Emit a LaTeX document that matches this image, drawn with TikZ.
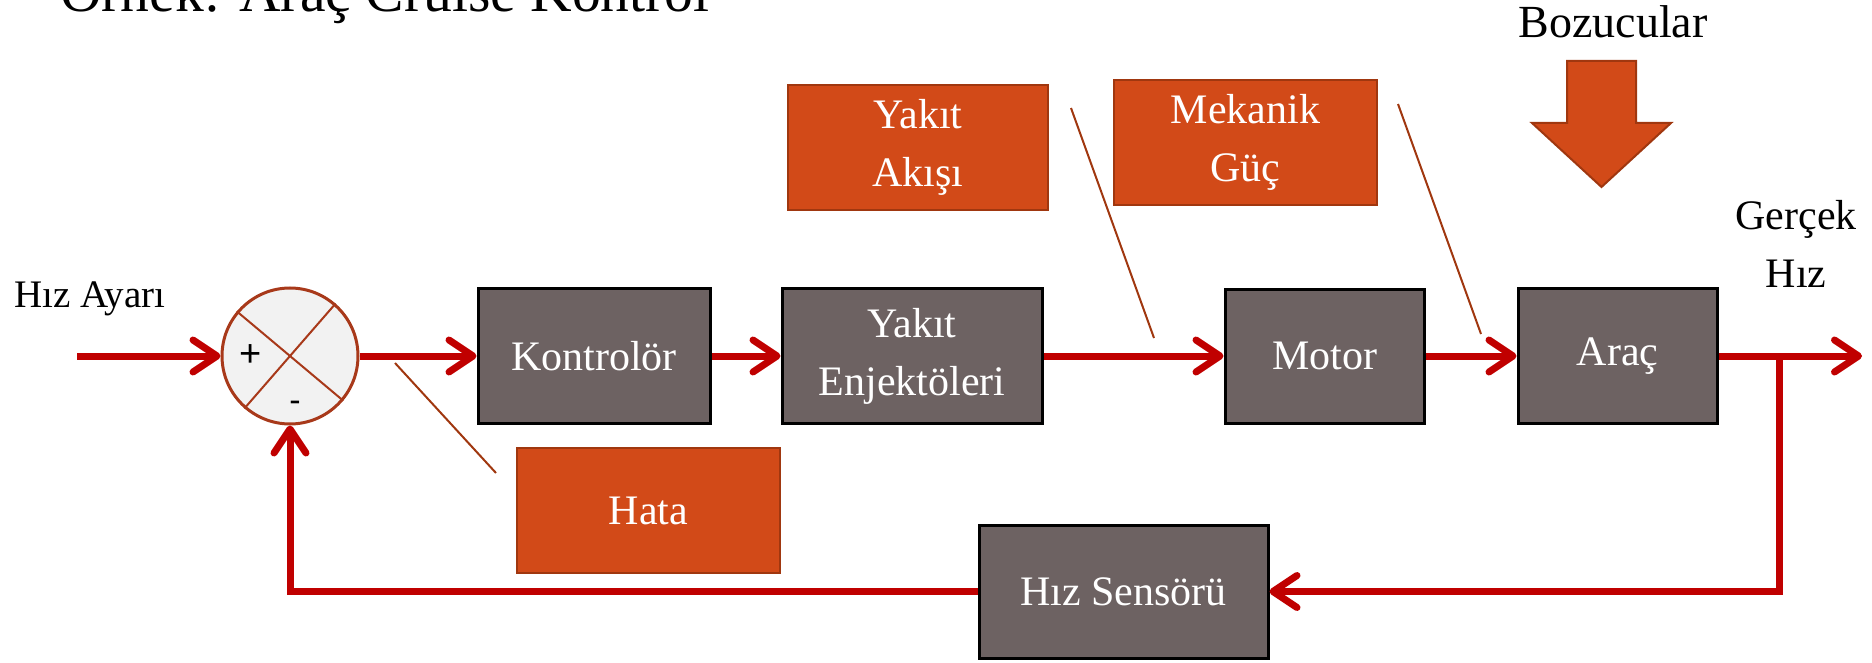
\documentclass[tikz,border=0pt]{standalone}
\usepackage{fontspec}
\setmainfont{Liberation Serif}
\newfontfamily\signfont{Liberation Sans}
\usetikzlibrary{arrows.meta}
\definecolor{sigred}{HTML}{C00000}
\definecolor{blockgray}{HTML}{6D6262}
\definecolor{calloutfill}{HTML}{D24A18}
\definecolor{calloutedge}{HTML}{A0370F}
\definecolor{sumedge}{HTML}{A8391A}
\definecolor{sumfill}{HTML}{F2F2F2}
\begin{document}
\begin{tikzpicture}[x=1pt,y=-1pt,
  block/.style={draw=black, line width=3pt, fill=blockgray, text=white,
    font=\fontsize{42}{58}\selectfont, align=center, inner sep=0pt},
  callout/.style={draw=calloutedge, line width=2.5pt, fill=calloutfill, text=white,
    font=\fontsize{42}{58}\selectfont, align=center, inner sep=0pt},
  sig/.style={draw=sigred, line width=7pt, -{Straight Barb[length=24pt,width=32pt,round]}},
  sigline/.style={draw=sigred, line width=7pt},
  pointer/.style={draw=calloutedge, line width=2pt},
  lbl/.style={font=\fontsize{42}{58}\selectfont, align=center, inner sep=0pt}
]
\useasboundingbox (0,0) rectangle (1872,663);

% title
\node[anchor=base west, inner sep=0pt, font=\fontsize{57.6}{60}\selectfont] (title) at (60,12) {Örnek: Araç Cruise Kontrol};

% labels
\node[lbl, anchor=base west, font=\fontsize{39}{50}\selectfont] (setlbl) at (14,307) {Hız Ayarı};
\node[lbl, anchor=base, font=\fontsize{46}{50}\selectfont] (distlbl) at (1613,38) {Bozucular};
\node[lbl] (outlbl) at (1796,243.5) {Gerçek\\Hız};

% summing junction
\node[circle, draw=sumedge, line width=3pt, fill=sumfill, minimum size=136pt, inner sep=0pt] (sum) at (290,356) {};
\draw[sumedge, line width=2pt] (sum.140) -- (sum.-40);
\draw[sumedge, line width=2pt] (sum.49) -- (sum.229);
\node[font=\signfont\fontsize{38}{40}\selectfont, inner sep=0pt] (plus) at (251,356) {+};
\node[font=\signfont\fontsize{34}{40}\selectfont, inner sep=0pt] (minus) at (295,406) {-};

% blocks
\node[block, minimum width=232pt, minimum height=135pt] (kont) at (594,356) {Kontrolör};
\node[block, minimum width=260pt, minimum height=135pt] (enj) at (912,356) {Yakıt\\Enjektöleri};
\node[block, minimum width=199pt, minimum height=134pt] (motor) at (1324.5,356) {Motor};
\node[block, minimum width=199pt, minimum height=135pt] (arac) at (1617.5,356) {Araç};
\node[block, minimum width=289pt, minimum height=133pt] (sensor) at (1123.5,591.5) {Hız Sensörü};

% callouts
\node[callout, minimum width=263pt, minimum height=125pt] (hata) at (648.5,510.5) {Hata};
\node[callout, minimum width=260pt, minimum height=125pt] (akis) at (918,147.5) {Yakıt\\Akışı};
\node[callout, minimum width=263pt, minimum height=125pt] (guc) at (1245.5,142.5) {Mekanik\\Güç};

% disturbance block arrow
\filldraw[fill=calloutfill, draw=calloutedge, line width=2pt, line join=miter]
  (1567,61) -- (1636,61) -- (1636,123) -- (1671,123) -- (1601.5,187)
  -- (1532,123) -- (1567,123) -- cycle;

% coordinates
\coordinate (in) at (77,356);
\coordinate (out) at (1862,356);
\coordinate (br) at (1779,356);
\coordinate (hataA) at (395,363);
\coordinate (hataB) at (496,473);
\coordinate (akisA) at (1071,108);
\coordinate (akisB) at (1154,338);
\coordinate (gucA) at (1398,104);
\coordinate (gucB) at (1481,334);

% signal flow
\draw[sig] (in) -- (sum.west);
\draw[sig] (sum.east) -- (kont.west);
\draw[sig] (kont.east) -- (enj.west);
\draw[sig] (enj.east) -- (motor.west);
\draw[sig] (motor.east) -- (arac.west);
\draw[sig] (arac.east) -- (out);
\draw[sig] (br) |- (sensor.east);
\draw[sig] (sensor.west) -| (sum.south);

% callout pointers
\draw[pointer] (hataA) -- (hataB);
\draw[pointer] (akisA) -- (akisB);
\draw[pointer] (gucA) -- (gucB);
\end{tikzpicture}
\end{document}
